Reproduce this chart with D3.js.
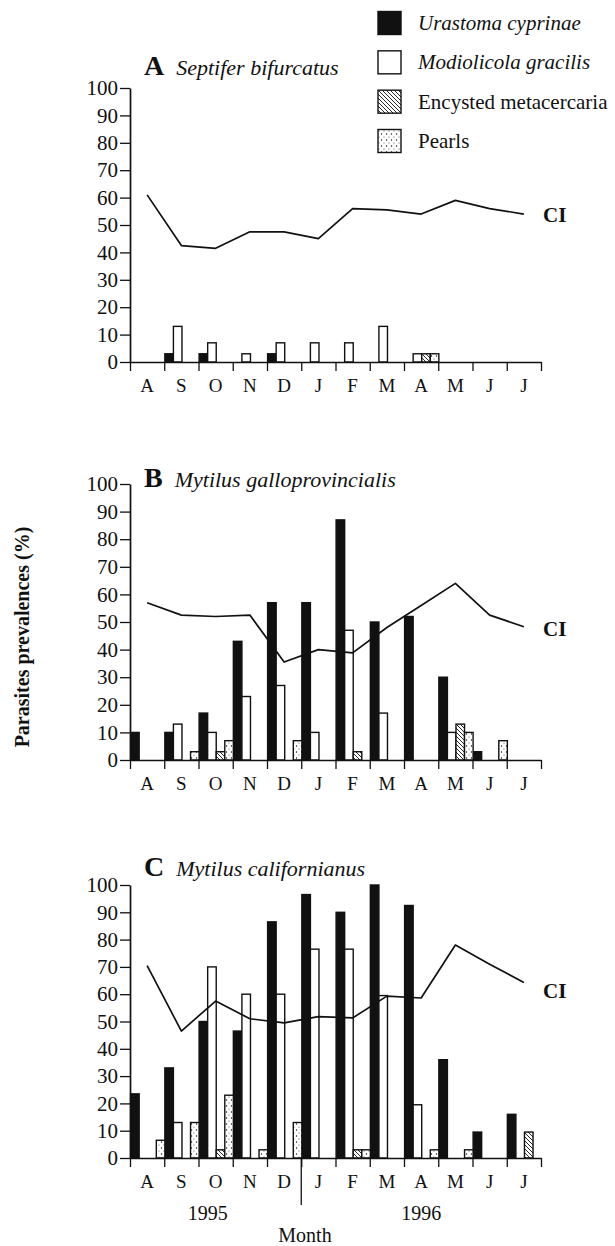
<!DOCTYPE html>
<html>
<head>
<meta charset="utf-8">
<script src="https://cdn.jsdelivr.net/npm/d3@7"></script>
<style>
  html, body { margin: 0; padding: 0; background: #fff; }
  svg { display: block; }
  text { font-family: "Liberation Serif", "Times New Roman", "DejaVu Serif", serif; fill: #111; }
</style>
</head>
<body>
<svg id="chart" width="615" height="1246"></svg>
<script>
// Sampling months, August 1995 to July 1996
const months = ["A", "S", "O", "N", "D", "J", "F", "M", "A", "M", "J", "J"];
const yTicks = [0, 10, 20, 30, 40, 50, 60, 70, 80, 90, 100];
const seriesKeys = ["urastoma", "modiolicola", "encysted", "pearls"];
const seriesNames = ["Urastoma cyprinae", "Modiolicola gracilis", "Encysted metacercaria", "Pearls"];
const hosts = ["Septifer bifurcatus", "Mytilus galloprovincialis", "Mytilus californianus"];
const panelLetters = ["A", "B", "C"];
const years = ["1995", "1996"];

// A: Septifer bifurcatus — prevalences (%)
const urastomaA    = [0, 3, 3, 0, 3, 0, 0, 0, 0, 0, 0, 0];
const modiolicolaA = [0, 13, 7, 3, 7, 7, 7, 13, 3, 0, 0, 0];
const encystedA    = [0, 0, 0, 0, 0, 0, 0, 0, 3, 0, 0, 0];
const pearlsA      = [0, 0, 0, 0, 0, 0, 0, 0, 3, 0, 0, 0];
const ciA          = [61, 42.5, 41.5, 47.5, 47.5, 45, 56, 55.5, 54, 59, 56, 54];

// B: Mytilus galloprovincialis
const urastomaB    = [10, 10, 17, 43, 57, 57, 87, 50, 52, 30, 3, 0];
const modiolicolaB = [0, 13, 10, 23, 27, 10, 47, 17, 0, 10, 0, 0];
const encystedB    = [0, 0, 3, 0, 0, 0, 3, 0, 0, 13, 0, 0];
const pearlsB      = [0, 3, 7, 0, 7, 0, 0, 0, 0, 10, 7, 0];
const ciB          = [57, 52.5, 52, 52.5, 35.5, 40, 38.8, 48, 56, 64, 52.5, 48.3];

// C: Mytilus californianus
const urastomaC    = [23.5, 33, 50, 46.5, 86.5, 96.5, 90, 100, 92.5, 36, 9.5, 16];
const modiolicolaC = [0, 13, 70, 60, 60, 76.5, 76.5, 59.5, 19.5, 0, 0, 0];
const encystedC    = [0, 0, 3, 0, 0, 0, 3, 0, 0, 0, 0, 9.5];
const pearlsC      = [6.5, 13, 23, 3, 13, 0, 3, 0, 3, 3, 0, 0];
const ciC          = [70.5, 46.5, 57.5, 51, 49.5, 51.8, 51.3, 59.3, 58.6, 78, 71, 64.3];

const panelSeries = [
  [urastomaA, modiolicolaA, encystedA, pearlsA, ciA],
  [urastomaB, modiolicolaB, encystedB, pearlsB, ciB],
  [urastomaC, modiolicolaC, encystedC, pearlsC, ciC]
];

const serif = "Liberation Serif, Times New Roman, DejaVu Serif, serif";
const svg = d3.select("#chart").attr("font-family", serif);
const ink = "#111";

// fill patterns
const defs = svg.append("defs");
const hatch = defs.append("pattern").attr("id", "hatch")
  .attr("patternUnits", "userSpaceOnUse").attr("width", 4).attr("height", 4);
hatch.append("rect").attr("width", 4).attr("height", 4).attr("fill", "#fff");
hatch.append("path").attr("d", "M-1,-1 L5,5 M-1,3 L1,5 M3,-1 L5,1")
  .attr("stroke", ink).attr("stroke-width", 0.9);
const dots = defs.append("pattern").attr("id", "dots")
  .attr("patternUnits", "userSpaceOnUse").attr("width", 5).attr("height", 6);
dots.append("rect").attr("width", 5).attr("height", 6).attr("fill", "#fff");
dots.append("circle").attr("cx", 1.5).attr("cy", 2).attr("r", 0.7).attr("fill", ink);
dots.append("circle").attr("cx", 4).attr("cy", 5).attr("r", 0.6).attr("fill", "#555");

const fills = { urastoma: ink, modiolicola: "#fff", encysted: "url(#hatch)", pearls: "url(#dots)" };

const x = d3.scaleBand().domain(d3.range(months.length)).range([130, 541]).padding(0);
const xEdge = d3.scaleLinear().domain([0, months.length]).range([130, 541]);
const sub = d3.scaleBand().domain(seriesKeys).range([0, x.bandwidth()]).padding(0);

const layout = [
  { top: 88, bottom: 362, titleY: 75, ciY: 222 },
  { top: 484, bottom: 760, titleY: 487, ciY: 636 },
  { top: 885, bottom: 1158, titleY: 876, ciY: 998 }
];

layout.forEach((L, p) => {
  const y = d3.scaleLinear().domain([0, 100]).range([L.bottom, L.top]);
  const g = svg.append("g");
  const data = panelSeries[p];

  // bars
  seriesKeys.forEach((key, s) => {
    g.append("g").selectAll("rect")
      .data(data[s].map((v, i) => ({ v, i })).filter(d => d.v > 0))
      .join("rect")
      .attr("x", d => x(d.i) + sub(key) + 0.6)
      .attr("y", d => y(d.v))
      .attr("width", sub.bandwidth())
      .attr("height", d => y(0) - y(d.v))
      .attr("fill", fills[key])
      .attr("stroke", ink)
      .attr("stroke-width", 1.4);
  });

  // condition index line
  const line = d3.line().x((d, i) => x(i) + x.bandwidth() / 2).y(d => y(d));
  g.append("path").datum(data[4]).attr("d", line)
    .attr("fill", "none").attr("stroke", ink).attr("stroke-width", 1.7)
    .attr("stroke-linejoin", "round");
  g.append("text").attr("x", 543).attr("y", L.ciY)
    .attr("font-size", 21).attr("font-weight", "bold").text("CI");

  // y axis
  const ya = g.append("g").attr("transform", "translate(130,0)")
    .call(d3.axisLeft(y).tickValues(yTicks).tickSize(10).tickPadding(2).tickSizeOuter(0))
    .attr("font-family", serif);
  ya.select(".domain").attr("stroke", ink).attr("stroke-width", 1.7);
  ya.selectAll(".tick line").attr("stroke", ink).attr("stroke-width", 1.3);
  ya.selectAll(".tick text").attr("font-size", 21).attr("fill", ink);

  // x axis with ticks at month boundaries
  const xa = g.append("g").attr("transform", `translate(0,${L.bottom})`)
    .call(d3.axisBottom(xEdge).tickValues(d3.range(months.length + 1)).tickSize(9).tickFormat("").tickSizeOuter(0));
  xa.select(".domain").attr("stroke", ink).attr("stroke-width", 1.7);
  xa.selectAll(".tick line").attr("stroke", ink).attr("stroke-width", 1.3);

  g.append("g").selectAll("text").data(months).join("text")
    .attr("x", (d, i) => x(i) + x.bandwidth() / 2)
    .attr("y", L.bottom + 30)
    .attr("text-anchor", "middle").attr("font-size", 19).text(d => d);

  // panel title
  const t = g.append("text").attr("x", 144).attr("y", L.titleY);
  t.append("tspan").attr("font-size", 28).attr("font-weight", "bold").text(panelLetters[p]);
  t.append("tspan").attr("dx", 12).attr("font-size", 22).attr("font-style", "italic").text(hosts[p]);

  if (p === 2) {
    // separator between the two years
    g.append("line").attr("x1", xEdge(5)).attr("x2", xEdge(5))
      .attr("y1", L.bottom).attr("y2", L.bottom + 47)
      .attr("stroke", ink).attr("stroke-width", 1.3);
    g.append("text").attr("x", x(2) + x.bandwidth() / 2 - 8).attr("y", L.bottom + 62)
      .attr("text-anchor", "middle").attr("font-size", 20).text(years[0]);
    g.append("text").attr("x", x(8) + x.bandwidth() / 2).attr("y", L.bottom + 62)
      .attr("text-anchor", "middle").attr("font-size", 20).text(years[1]);
    g.append("text").attr("x", 305).attr("y", L.bottom + 84)
      .attr("text-anchor", "middle").attr("font-size", 20).text("Month");
  }
});

// shared y-axis title
svg.append("text")
  .attr("transform", "translate(29,637) rotate(-90)")
  .attr("text-anchor", "middle").attr("font-size", 20).attr("font-weight", "bold")
  .text("Parasites prevalences (%)");

// legend
const legend = svg.append("g");
const legendY = d3.scalePoint().domain(seriesKeys).range([23, 141]);
seriesKeys.forEach((key, i) => {
  legend.append("rect")
    .attr("x", 378).attr("y", legendY(key) - 11.5).attr("width", 23).attr("height", 23)
    .attr("fill", fills[key]).attr("stroke", ink).attr("stroke-width", 1.4);
  legend.append("text")
    .attr("x", 418).attr("y", legendY(key) + 7).attr("font-size", 21)
    .attr("font-style", i < 2 ? "italic" : "normal")
    .text(seriesNames[i]);
});
</script>
</body>
</html>
